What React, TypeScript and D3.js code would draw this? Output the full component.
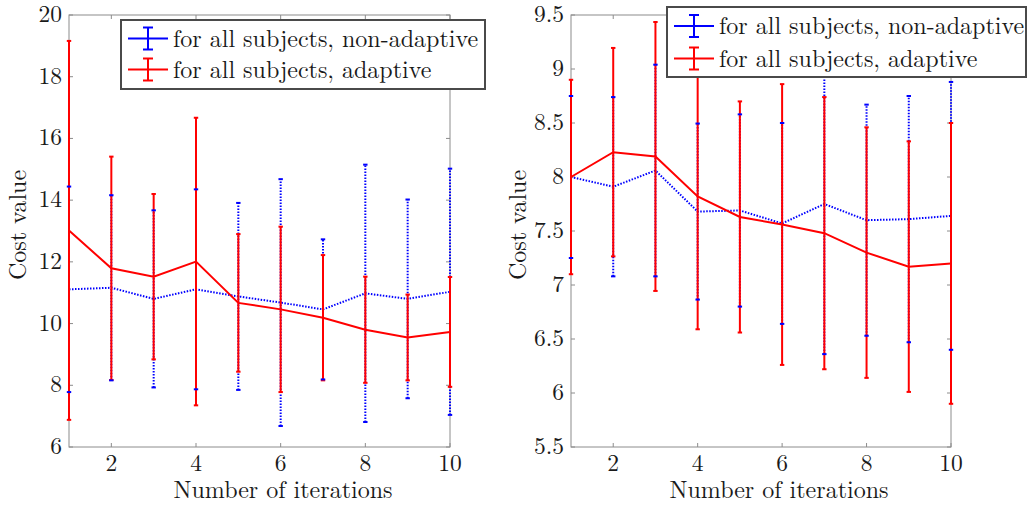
import React from "react";
import * as d3 from "d3";

const iterations = [1, 2, 3, 4, 5, 6, 7, 8, 9, 10];

// Left panel
const leftNonAdaptiveMean = [11.11, 11.16, 10.8, 11.11, 10.88, 10.68, 10.46, 10.98, 10.8, 11.03];
const leftNonAdaptiveErr = [3.33, 3.0, 2.87, 3.24, 3.03, 4.0, 2.27, 4.17, 3.22, 3.99];
const leftAdaptiveMean = [13.02, 11.79, 11.52, 12.01, 10.67, 10.46, 10.19, 9.8, 9.55, 9.73];
const leftAdaptiveErr = [6.14, 3.62, 2.68, 4.66, 2.23, 2.68, 2.03, 1.72, 1.39, 1.78];
const leftYTicks = [6, 8, 10, 12, 14, 16, 18, 20];

// Right panel
const rightNonAdaptiveMean = [8.0, 7.91, 8.06, 7.68, 7.69, 7.57, 7.75, 7.6, 7.61, 7.64];
const rightNonAdaptiveErr = [0.75, 0.83, 0.98, 0.815, 0.89, 0.93, 1.39, 1.07, 1.14, 1.24];
const rightAdaptiveMean = [8.0, 8.23, 8.19, 7.82, 7.63, 7.56, 7.48, 7.3, 7.17, 7.2];
const rightAdaptiveErr = [0.9, 0.965, 1.245, 1.23, 1.07, 1.3, 1.26, 1.16, 1.16, 1.3];
const rightYTicks = [5.5, 6, 6.5, 7, 7.5, 8, 8.5, 9, 9.5];

const xTicks = [2, 4, 6, 8, 10];
const legendLabels = ["for all subjects, non-adaptive", "for all subjects, adaptive"];
const xTitle = "Number of iterations";
const yTitle = "Cost value";

const BLUE = "#0000ff";
const RED = "#ff0000";
const AXIS = "#8c8c8c";
const FONT = "Latin Modern Roman";

type PanelProps = {
  x0: number; x1: number; y0: number; y1: number;
  yDomain: [number, number];
  yTicks: number[];
  blueMean: number[]; blueErr: number[];
  redMean: number[]; redErr: number[];
  yLabelX: number; xTitleX: number;
  legend: { x: number; y: number; w: number; h: number; row1: number; row2: number };
};

function Panel(p: PanelProps) {
  const x = d3.scaleLinear().domain([1, 10]).range([p.x0, p.x1]);
  const y = d3.scaleLinear().domain(p.yDomain).range([p.y1, p.y0]);
  const line = d3.line<number>().x((_, i) => x(iterations[i])).y((d) => y(d));
  const fmt = (v: number) => (Number.isInteger(v) ? String(v) : v.toFixed(1));
  const capW = 2.2;
  const L = p.legend;
  const lx0 = L.x + 7;
  const lx1 = L.x + 47;
  const lxm = (lx0 + lx1) / 2;
  const clipId = `clip-${p.x0}`;
  return (
    <g>
      <defs>
        <clipPath id={clipId}>
          <rect x={p.x0 - 4} y={p.y0 - 4} width={p.x1 - p.x0 + 8} height={p.y1 - p.y0 + 8} />
        </clipPath>
      </defs>
      {/* box */}
      <rect x={p.x0} y={p.y0} width={p.x1 - p.x0} height={p.y1 - p.y0} fill="none" stroke={AXIS} strokeWidth={1} />
      {/* ticks */}
      {xTicks.map((t) => (
        <g key={"xt" + t}>
          <line x1={x(t)} x2={x(t)} y1={p.y1} y2={p.y1 - 4} stroke={AXIS} />
          <line x1={x(t)} x2={x(t)} y1={p.y0} y2={p.y0 + 4} stroke={AXIS} />
          <text x={x(t)} y={p.y1 + 23.5} textAnchor="middle" fontFamily={FONT} fontSize={23.5} fill="#1a1a1a">{t}</text>
        </g>
      ))}
      {p.yTicks.map((t) => (
        <g key={"yt" + t}>
          <line x1={p.x0} x2={p.x0 + 4} y1={y(t)} y2={y(t)} stroke={AXIS} />
          <line x1={p.x1} x2={p.x1 - 4} y1={y(t)} y2={y(t)} stroke={AXIS} />
          <text x={p.x0 - 7} y={y(t) + 7} textAnchor="end" fontFamily={FONT} fontSize={23.5} fill="#1a1a1a">{fmt(t)}</text>
        </g>
      ))}
      <text x={p.xTitleX} y={p.y1 + 51} textAnchor="middle" fontFamily={FONT} fontSize={24} fill="#1a1a1a">{xTitle}</text>
      <text transform={`translate(${p.yLabelX},${225}) rotate(-90)`} textAnchor="middle" fontFamily={FONT} fontSize={24} fill="#1a1a1a">{yTitle}</text>

      <g clipPath={`url(#${clipId})`}>
        {/* blue error bars and line */}
        {iterations.map((it, i) => (
          <line key={"bb" + i} x1={x(it)} x2={x(it)} y1={y(p.blueMean[i] - p.blueErr[i])} y2={y(p.blueMean[i] + p.blueErr[i])}
            stroke={BLUE} strokeWidth={2} strokeDasharray="1.5,1.5" />
        ))}
        <path d={line(p.blueMean) || ""} fill="none" stroke={BLUE} strokeWidth={2} strokeDasharray="1.5,1.5" />
        {/* red error bars and line */}
        {iterations.map((it, i) => (
          <g key={"rb" + i}>
            <line x1={x(it)} x2={x(it)} y1={y(p.redMean[i] - p.redErr[i])} y2={y(p.redMean[i] + p.redErr[i])}
              stroke={RED} strokeWidth={2} />
            <line x1={x(it) - capW} x2={x(it) + capW} y1={y(p.redMean[i] - p.redErr[i])} y2={y(p.redMean[i] - p.redErr[i])} stroke={RED} strokeWidth={2} />
            <line x1={x(it) - capW} x2={x(it) + capW} y1={y(p.redMean[i] + p.redErr[i])} y2={y(p.redMean[i] + p.redErr[i])} stroke={RED} strokeWidth={2} />
          </g>
        ))}
        <path d={line(p.redMean) || ""} fill="none" stroke={RED} strokeWidth={2} />
        {iterations.map((it, i) => (
          <g key={"bc" + i}>
            <line x1={x(it) - capW} x2={x(it) + capW} y1={y(p.blueMean[i] - p.blueErr[i])} y2={y(p.blueMean[i] - p.blueErr[i])} stroke={BLUE} strokeWidth={2} />
            <line x1={x(it) - capW} x2={x(it) + capW} y1={y(p.blueMean[i] + p.blueErr[i])} y2={y(p.blueMean[i] + p.blueErr[i])} stroke={BLUE} strokeWidth={2} />
          </g>
        ))}
      </g>

      {/* legend */}
      <rect x={L.x} y={L.y} width={L.w} height={L.h} fill="#fff" stroke="#4a4a4a" strokeWidth={2} />
      {[L.row1, L.row2].map((ry, k) => {
        const c = k === 0 ? BLUE : RED;
        return (
          <g key={"lg" + k}>
            <line x1={lx0} x2={lx1} y1={ry} y2={ry} stroke={c} strokeWidth={2} />
            <line x1={lxm} x2={lxm} y1={ry - 11} y2={ry + 11} stroke={c} strokeWidth={2} />
            <line x1={lxm - 5} x2={lxm + 5} y1={ry - 11} y2={ry - 11} stroke={c} strokeWidth={2} />
            <line x1={lxm - 5} x2={lxm + 5} y1={ry + 11} y2={ry + 11} stroke={c} strokeWidth={2} />
            <text x={lx1 + 5} y={ry + 8} fontFamily={FONT} fontSize={24} fill="#1a1a1a">{legendLabels[k]}</text>
          </g>
        );
      })}
    </g>
  );
}

export default function App() {
  return (
    <svg width={1027} height={505} style={{ position: "absolute", left: 0, top: 0, background: "#fff" }}>
      <Panel x0={69} x1={450} y0={15} y1={447} yDomain={[6, 20]} yTicks={leftYTicks}
        blueMean={leftNonAdaptiveMean} blueErr={leftNonAdaptiveErr}
        redMean={leftAdaptiveMean} redErr={leftAdaptiveErr}
        yLabelX={26} xTitleX={283}
        legend={{ x: 121, y: 20, w: 364, h: 69, row1: 38.5, row2: 69.5 }} />
      <Panel x0={571} x1={951} y0={15} y1={447} yDomain={[5.5, 9.5]} yTicks={rightYTicks}
        blueMean={rightNonAdaptiveMean} blueErr={rightNonAdaptiveErr}
        redMean={rightAdaptiveMean} redErr={rightAdaptiveErr}
        yLabelX={526} xTitleX={779}
        legend={{ x: 667, y: 7, w: 359, h: 70, row1: 26, row2: 58.5 }} />
    </svg>
  );
}
